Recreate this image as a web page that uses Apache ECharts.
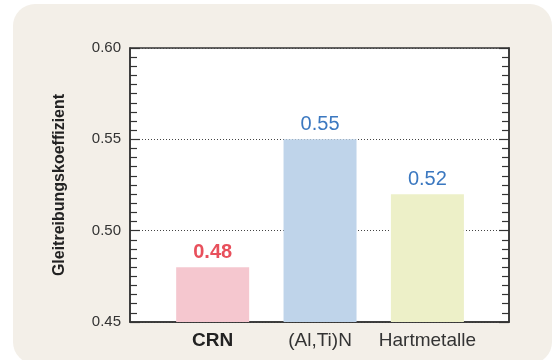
<!DOCTYPE html>
<html>
<head>
<meta charset="utf-8">
<script src="https://cdn.jsdelivr.net/npm/echarts@6/dist/echarts.min.js"></script>
<style>
  html, body { margin: 0; padding: 0; background: #ffffff; }
  #main { width: 553px; height: 360px; }
</style>
</head>
<body>
<div id="main"></div>
<script>
var categories = ['CRN', '(Al,Ti)N', 'Hartmetalle'];
var values = [0.48, 0.55, 0.52];
var barColors = ['#f5c7cf', '#bfd4ea', '#edf0c8'];
var labelColors = ['#e8505c', '#3b78c0', '#3b78c0'];
var yTicks = [0.45, 0.50, 0.55, 0.60];

var chart = echarts.init(document.getElementById('main'));
var font = '"Liberation Sans", Arial, sans-serif';

var barData = values.map(function (v, i) {
    return {
        value: [i, v],
        itemStyle: { color: barColors[i] },
        label: {
            color: labelColors[i],
            fontWeight: i === 0 ? 'bold' : 'normal'
        }
    };
});

var yAxisBase = {
    type: 'value',
    min: yTicks[0],
    max: yTicks[yTicks.length - 1],
    interval: 0.05,
    axisLine: { show: true, onZero: false, lineStyle: { color: '#333', width: 1.5 } },
    axisTick: { show: true, inside: true, length: 10, lineStyle: { color: '#333', width: 1.2 } },
    minorTick: { show: true, splitNumber: 10, length: 7, lineStyle: { color: '#333', width: 1.2 } },
    minorSplitLine: { show: false }
};

var option = {
    backgroundColor: '#ffffff',
    animation: false,
    graphic: [{
        type: 'rect',
        z: -10,
        shape: { x: 13, y: 4, width: 539, height: 360, r: 22 },
        style: { fill: '#f3efe8' }
    }],
    grid: {
        left: 130, right: 44, top: 48, bottom: 38,
        show: true,
        backgroundColor: '#ffffff',
        borderColor: '#333',
        borderWidth: 1.5
    },
    xAxis: {
        type: 'value',
        min: -0.77,
        max: 2.76,
        axisLine: { show: true, onZero: false, lineStyle: { color: '#333', width: 1.5 } },
        axisTick: { show: false },
        splitLine: { show: false },
        axisLabel: {
            customValues: [0, 1, 2],
            margin: 9,
            formatter: function (v) {
                var i = Math.round(v);
                return i === 0 ? '{b|' + categories[i] + '}' : '{n|' + categories[i] + '}';
            },
            rich: {
                b: { fontFamily: font, fontSize: 19, fontWeight: 'bold', color: '#222' },
                n: { fontFamily: font, fontSize: 19, color: '#333' }
            }
        }
    },
    yAxis: [
        Object.assign({}, yAxisBase, {
            position: 'left',
            name: 'Gleitreibungskoeffizient',
            nameLocation: 'middle',
            nameGap: 62,
            nameTextStyle: { fontFamily: font, fontSize: 16, fontWeight: 'bold', color: '#222' },
            axisLabel: {
                fontFamily: font, fontSize: 15, color: '#333', margin: 9,
                formatter: function (v) { return v.toFixed(2); }
            },
            splitLine: {
                show: true,
                lineStyle: { color: '#444', type: [1, 2], width: 1 }
            }
        }),
        Object.assign({}, yAxisBase, {
            position: 'right',
            axisLabel: { show: false },
            splitLine: { show: false }
        })
    ],
    series: [{
        type: 'bar',
        yAxisIndex: 0,
        barWidth: 73,
        data: barData,
        label: {
            show: true,
            position: 'top',
            distance: 5,
            fontFamily: font,
            fontSize: 20,
            formatter: function (p) { return p.value[1].toFixed(2); }
        }
    }]
};

chart.setOption(option);
</script>
</body>
</html>
